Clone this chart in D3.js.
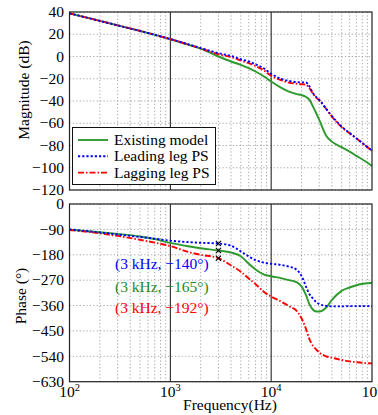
<!DOCTYPE html>
<html>
<head>
<meta charset="utf-8">
<script src="https://cdn.jsdelivr.net/npm/d3@7"></script>
<style>
  html, body { margin: 0; padding: 0; background: #fff; }
  svg { display: block; }
  text { font-family: 'Liberation Serif', 'Times New Roman', Times, serif; }
</style>
</head>
<body>
<svg id="chart" width="378" height="415"></svg>
<script>
// ---------------- data ----------------
const freqs = [100, 200, 300, 500, 700, 1000, 1500, 2000, 3000, 4000, 5000, 6000, 7000, 8500,
  10000, 12500, 15000, 18000, 20000, 22000, 24000, 26000, 28000, 30000, 35000, 40000,
  50000, 60000, 70000, 85000, 100000];

const seriesNames = ["Existing model", "Leading leg PS", "Lagging leg PS"];

const magExisting = [38.8, 32, 28, 23, 19.5, 15.5, 10.7, 7, 0, -4.5, -7.5, -10.5, -13.5, -18,
  -22.5, -28, -31.5, -33.8, -34.7, -36.2, -39, -45, -51, -57, -71, -76.5,
  -81.5, -85.5, -89.3, -94, -98.4];
const magLeading = [38.8, 32, 28, 23, 19.5, 15.7, 11, 7.6, 3, 0.5, -2.5, -4.5, -7, -10.8,
  -15.5, -20, -22, -23, -23.3, -23.2, -27, -33, -36.5, -39, -46.8, -53.5,
  -63, -68.7, -73.5, -79.6, -84.7];
const magLagging = [38.8, 32, 28, 23, 19.5, 15.6, 10.8, 7.3, 2, -0.5, -3.5, -6, -8.5, -12.5,
  -17.3, -21.3, -23.5, -24.5, -25, -25.2, -28.5, -33.5, -37, -39.5, -47, -54,
  -63.5, -69, -73.8, -79.6, -84.7];

const phExisting = [-91, -100, -106, -115, -124, -138, -150, -157, -165, -172, -185, -212, -232, -250,
  -256, -263, -270, -278, -292, -320, -356, -375, -381, -381, -368, -340,
  -308, -296, -288, -282, -279];
const phLeading = [-90, -101, -108, -117, -123, -130, -135, -137.5, -140, -148, -168, -186, -199, -208,
  -212, -216, -222, -234, -255, -290, -320, -335, -348, -355, -361, -363,
  -363, -362, -362, -362, -362];
const phLagging = [-92, -104, -113, -127, -137, -149, -170, -180, -192, -218, -240, -264, -284, -312,
  -328, -346, -362, -380, -405, -440, -480, -503, -516, -526, -540, -545,
  -553, -558, -561, -564, -565];

const markerFreq = 3000;
const markerPhase = [-140, -165, -192]; // leading, existing, lagging
const annotations = ["(3 kHz, \u2212140\u00b0)", "(3 kHz, \u2212165\u00b0)", "(3 kHz, \u2212192\u00b0)"];

const magTicks = [40, 20, 0, -20, -40, -60, -80, -100, -120];
const phaseTicks = [0, -90, -180, -270, -360, -450, -540, -630];
const decadeTicks = [100, 1000, 10000, 100000];

// ---------------- styles ----------------
const FONT = "'Liberation Serif', 'Times New Roman', Times, serif";
const colors = { existing: "#2e9a2e", leading: "#0000ff", lagging: "#ff0000" };
const annColors = ["#0000ff", "#228b22", "#ff0000"];
const dashes = { existing: null, leading: "2.2,2", lagging: "6,2,1.5,2" };
const FS = 15.5;

const svg = d3.select("#chart").attr("font-family", FONT);
const L = 69.5, R = 372;
const x = d3.scaleLog().domain([100, 100000]).range([L, R]);
const yMag = d3.scaleLinear().domain([-120, 40]).range([190, 12]);
const yPh = d3.scaleLinear().domain([-630, 0]).range([381.7, 204]);

function minorTicks() {
  const out = [];
  for (let d = 100; d < 100000; d *= 10)
    for (let k = 2; k <= 9; k++) out.push(d * k);
  return out;
}

function txt(sel) { return sel.append("text").attr("font-family", FONT).attr("font-size", FS); }

function panel(y, ticks) {
  const g = svg.append("g");
  const [y0, y1] = y.range();
  g.selectAll(".vmin").data(minorTicks()).enter().append("line")
    .attr("x1", d => x(d)).attr("x2", d => x(d))
    .attr("y1", y1).attr("y2", y0)
    .attr("stroke", "#9a9a9a").attr("stroke-width", 0.9).attr("stroke-dasharray", "1.2,2.2");
  g.selectAll(".hg").data(ticks).enter().append("line")
    .attr("x1", L).attr("x2", R)
    .attr("y1", d => y(d)).attr("y2", d => y(d))
    .attr("stroke", "#9a9a9a").attr("stroke-width", 0.9).attr("stroke-dasharray", "1.2,2.2");
  g.selectAll(".vmaj").data(decadeTicks.slice(1, -1)).enter().append("line")
    .attr("x1", d => x(d)).attr("x2", d => x(d))
    .attr("y1", y1).attr("y2", y0)
    .attr("stroke", "#111").attr("stroke-width", 1);
  ticks.forEach(d => {
    txt(g).attr("x", 64).attr("y", y(d) + 5.2).attr("text-anchor", "end")
      .text(d < 0 ? "\u2212" + Math.abs(d) : d);
  });
  return g;
}

function frame(y) {
  const [y0, y1] = y.range();
  svg.append("rect").attr("x", L).attr("y", y1).attr("width", R - L).attr("height", y0 - y1)
    .attr("fill", "none").attr("stroke", "#222").attr("stroke-width", 1.2);
}

function drawLine(vals, y, key) {
  const line = d3.line().x((d, i) => x(freqs[i])).y(d => y(d)).curve(d3.curveMonotoneX);
  svg.append("path").datum(vals).attr("d", line)
    .attr("fill", "none").attr("stroke", colors[key]).attr("stroke-width", 1.9)
    .attr("stroke-dasharray", dashes[key]);
}

// ---------------- magnitude ----------------
panel(yMag, magTicks);
drawLine(magExisting, yMag, "existing");
drawLine(magLagging, yMag, "lagging");
drawLine(magLeading, yMag, "leading");
frame(yMag);

// legend
const lg = svg.append("g");
lg.append("rect").attr("x", 72.5).attr("y", 127.5).attr("width", 143).attr("height", 57)
  .attr("fill", "#fff").attr("stroke", "#111").attr("stroke-width", 1);
const keys = ["existing", "leading", "lagging"];
const rowY = [140, 156.3, 172.6];
keys.forEach((k, i) => {
  lg.append("line").attr("x1", 78).attr("x2", 108).attr("y1", rowY[i]).attr("y2", rowY[i])
    .attr("stroke", colors[k]).attr("stroke-width", 1.9).attr("stroke-dasharray", dashes[k]);
  txt(lg).attr("x", 114).attr("y", rowY[i] + 5).text(seriesNames[i]);
});

// ---------------- phase ----------------
panel(yPh, phaseTicks);
drawLine(phExisting, yPh, "existing");
drawLine(phLagging, yPh, "lagging");
drawLine(phLeading, yPh, "leading");
frame(yPh);

markerPhase.forEach(p => {
  const cx = x(markerFreq), cy = yPh(p), s = 2.6;
  svg.append("path").attr("d", `M${cx - s},${cy - s}L${cx + s},${cy + s}M${cx - s},${cy + s}L${cx + s},${cy - s}`)
    .attr("stroke", "#000").attr("stroke-width", 1.1);
});

const annY = [268.5, 292, 312.5];
annotations.forEach((t, i) => {
  txt(svg).attr("x", 115).attr("y", annY[i]).attr("fill", annColors[i]).text(t);
});

decadeTicks.forEach(d => {
  const t = txt(svg).attr("x", x(d)).attr("y", 396.7).attr("text-anchor", "middle");
  t.append("tspan").text("10");
  t.append("tspan").attr("font-size", 10.5).attr("dy", -6).text(Math.round(Math.log10(d)));
});

txt(svg).attr("transform", "translate(29,90) rotate(-90)")
  .attr("text-anchor", "middle").text("Magnitude (dB)");
txt(svg).attr("transform", "translate(26,296) rotate(-90)")
  .attr("text-anchor", "middle").text("Phase (\u00b0)");
txt(svg).attr("x", 230).attr("y", 410)
  .attr("text-anchor", "middle").text("Frequency(Hz)");
</script>
</body>
</html>
